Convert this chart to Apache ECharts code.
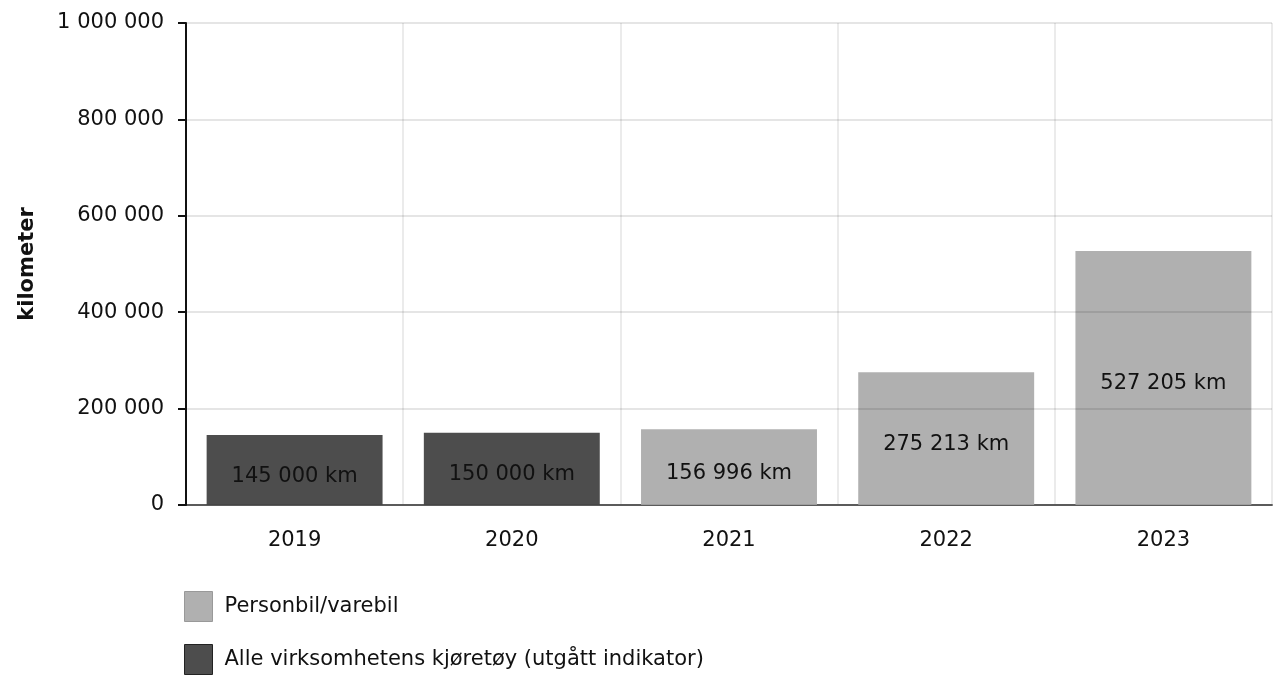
<!DOCTYPE html>
<html><head><meta charset="utf-8">
<script src="https://cdn.jsdelivr.net/npm/echarts@6/dist/echarts.min.js"></script>
<style>html,body{margin:0;padding:0;background:#fff}#c{width:1276px;height:675px}</style>
</head><body><div id="c"></div>
<script>
const categories = ['2019', '2020', '2021', '2022', '2023'];
const seriesNames = ['Personbil/varebil', 'Alle virksomhetens kjøretøy (utgått indikator)'];
const personbil = [null, null, 156996, 275213, 527205];
const alleKjoretoy = [145000, 150000, null, null, null];
const yTicks = [0, 200000, 400000, 600000, 800000, 1000000];
const yTitle = 'kilometer';

const FONT = 'DejaVu Sans';
const FS = 21;
const fmt = v => String(v).replace(/\B(?=(\d{3})+(?!\d))/g, ' ');
const colors = ['#b0b0b0', '#4d4d4d'];
const chart = echarts.init(document.getElementById('c'));
const label = {
  show: true, position: 'inside', offset: [0, 6], color: '#111',
  fontFamily: FONT, fontSize: FS,
  formatter: p => fmt(p.value) + ' km'
};
chart.setOption({
  animation: false,
  textStyle: { fontFamily: FONT },
  grid: { left: 186, right: 4, top: 23, bottom: 170, containLabel: false },
  legend: {
    orient: 'vertical', left: 184, top: 591, padding: 0, icon: 'rect',
    itemWidth: 28, itemHeight: 30, itemGap: 22,
    textStyle: { fontFamily: FONT, fontSize: FS, color: '#111', padding: [0, 0, 0, 7] },
    data: [
      { name: seriesNames[0], itemStyle: { color: colors[0], borderColor: '#999', borderWidth: 1 } },
      { name: seriesNames[1], itemStyle: { color: colors[1], borderColor: '#222', borderWidth: 1 } }
    ]
  },
  xAxis: {
    type: 'category', data: categories,
    axisLine: { lineStyle: { color: '#666', width: 2 } },
    axisTick: { alignWithLabel: true, length: 8, lineStyle: { color: '#aaa', width: 2 } },
    axisLabel: { color: '#111', fontSize: FS, fontFamily: FONT, margin: 25 },
    splitLine: { show: true, lineStyle: { color: '#ebebeb', width: 2, opacity: 1 } }
  },
  yAxis: {
    type: 'value', min: 0, max: 1000000, interval: 200000, z: 5,
    name: yTitle, nameLocation: 'middle', nameGap: 148,
    nameTextStyle: { fontFamily: FONT, fontSize: FS, fontWeight: 'bold', color: '#111' },
    axisLine: { show: true, lineStyle: { color: '#111', width: 2 } },
    axisTick: { show: true, length: 8, lineStyle: { color: '#111', width: 2 } },
    axisLabel: { color: '#111', fontSize: FS, fontFamily: FONT, margin: 22, formatter: v => yTicks.includes(v) ? fmt(v) : '' },
    splitLine: { lineStyle: { color: 'rgba(0,0,0,0.1)', width: 2 } }
  },
  series: [
    { name: seriesNames[0], type: 'bar', stack: 's', data: personbil, barWidth: '81%',
      itemStyle: { color: colors[0] }, label },
    { name: seriesNames[1], type: 'bar', stack: 's', data: alleKjoretoy, barWidth: '81%',
      itemStyle: { color: colors[1] }, label }
  ]
});
</script></body></html>
